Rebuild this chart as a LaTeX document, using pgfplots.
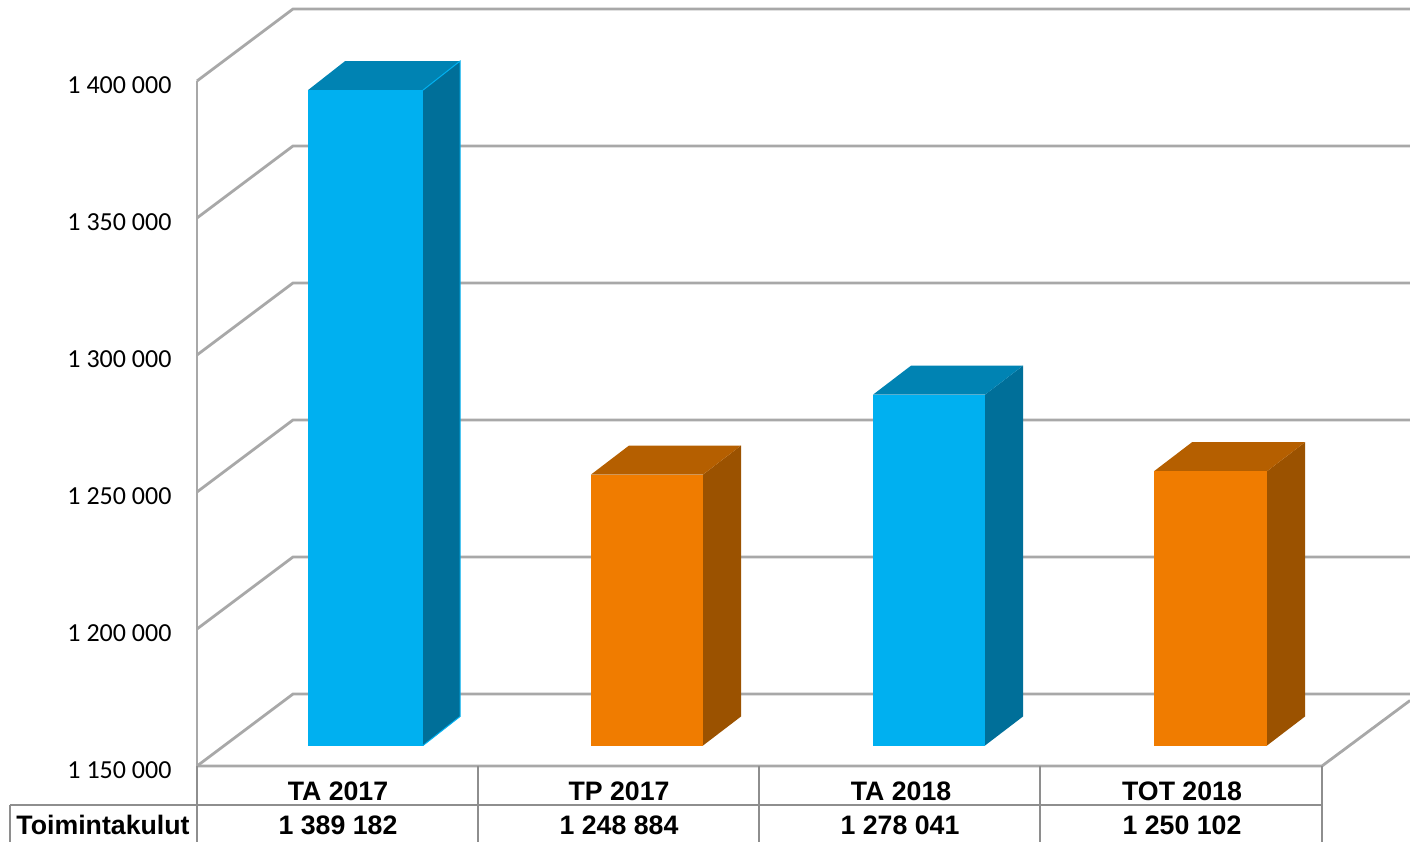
\documentclass[border=0pt]{standalone}
\usepackage{fontspec}
\setmainfont{Carlito}
\newfontfamily\arialb[BoldFont=Liberation Sans Bold]{Liberation Sans}
\usepackage{pgfplots}
\pgfplotsset{compat=1.18}
\definecolor{gridc}{HTML}{A8A8A8}
\definecolor{tablec}{HTML}{8E8E8E}
\definecolor{bfront}{HTML}{00B0F0}
\definecolor{bside}{HTML}{006F99}
\definecolor{btop}{HTML}{0083B3}
\definecolor{ofront}{HTML}{F07C00}
\definecolor{oside}{HTML}{9B5200}
\definecolor{otop}{HTML}{B55F00}
\pgfplotsset{
  base/.style={
    at={(150pt,0pt)}, anchor=south west,
    scale only axis, width=1260pt, height=842pt,
    xmin=150, xmax=1410,
  },
}
\tikzset{
  grid line/.style={draw=gridc, line width=2.8pt, line join=miter},
  table line/.style={draw=tablec, line width=2.3pt},
  face/.style={draw=none, fill=#1},
}
\begin{document}
\begin{tikzpicture}
\path[use as bounding box] (0pt,0pt) rectangle (1410pt,842pt);
% value axis: walls, floor, tick labels
\begin{axis}[base,
  ymin=1122264, ymax=1429562,
  axis line style={draw=none},
  xtick=\empty,
  ytick={1150000,1200000,1250000,1300000,1350000,1400000},
  major tick length=0pt,
  tick style={draw=none},
  scaled y ticks=false,
  yticklabel style={
    font=\fontsize{26}{30}\selectfont,
    /pgf/number format/assume math mode=true,
    /pgf/number format/fixed,
    /pgf/number format/1000 sep={\ },
    anchor=east, xshift=25pt, yshift=-4pt},
]
  \addplot[grid line] coordinates {(197,1400000)(197,1150000)};
  \addplot[grid line] coordinates {(197,1400000)(293,1426277)(1410,1426277)};
  \addplot[grid line] coordinates {(197,1350000)(293,1376277)(1410,1376277)};
  \addplot[grid line] coordinates {(197,1300000)(293,1326277)(1410,1326277)};
  \addplot[grid line] coordinates {(197,1250000)(293,1276277)(1410,1276277)};
  \addplot[grid line] coordinates {(197,1200000)(293,1226277)(1410,1226277)};
  \addplot[grid line] coordinates {(197,1150000)(293,1176277)(1410,1176277)};
  \addplot[grid line] coordinates {(197,1150000)(1322,1150000)(1410,1173900)};
\end{axis}
% bars: same scale, front plane stands 20 px in front of the wall plane
\begin{axis}[base,
  ymin=1114785, ymax=1422083,
  hide axis,
]
  % TA 2017
  \addplot[face=bside] coordinates {(423,1150000)(423,1389182)(460,1399766)(460,1160584)} -- cycle;
  \addplot[face=btop] coordinates {(308,1389182)(423,1389182)(460,1399766)(345,1399766)} -- cycle;
  \addplot[face=bfront] coordinates {(308,1150000)(308,1389182)(423,1389182)(423,1150000)} -- cycle;
  \addplot[draw=bfront, line width=1pt] coordinates {(423,1389182)(460,1399766)(460,1160584)(423,1150000)};
  % TP 2017
  \addplot[face=oside] coordinates {(703,1150000)(703,1248884)(741,1259468)(741,1160584)} -- cycle;
  \addplot[face=otop] coordinates {(591,1248884)(703,1248884)(741,1259468)(629,1259468)} -- cycle;
  \addplot[face=ofront] coordinates {(591,1150000)(591,1248884)(703,1248884)(703,1150000)} -- cycle;
  % TA 2018
  \addplot[face=bside] coordinates {(985,1150000)(985,1278041)(1023,1288625)(1023,1160584)} -- cycle;
  \addplot[face=btop] coordinates {(873,1278041)(985,1278041)(1023,1288625)(911,1288625)} -- cycle;
  \addplot[face=bfront] coordinates {(873,1150000)(873,1278041)(985,1278041)(985,1150000)} -- cycle;
  % TOT 2018
  \addplot[face=oside] coordinates {(1267,1150000)(1267,1250102)(1305,1260686)(1305,1160584)} -- cycle;
  \addplot[face=otop] coordinates {(1154,1250102)(1267,1250102)(1305,1260686)(1192,1260686)} -- cycle;
  \addplot[face=ofront] coordinates {(1154,1150000)(1154,1250102)(1267,1250102)(1267,1150000)} -- cycle;
\end{axis}
% data table under the plot
\draw[table line] (197pt,76pt) -- (197pt,0pt);
\draw[table line] (478pt,76pt) -- (478pt,0pt);
\draw[table line] (759pt,76pt) -- (759pt,0pt);
\draw[table line] (1040pt,76pt) -- (1040pt,0pt);
\draw[table line] (1322pt,76pt) -- (1322pt,0pt);
\draw[table line] (10pt,37pt) -- (1322pt,37pt);
\draw[table line] (10pt,37pt) -- (10pt,0pt);
\tikzset{cell/.style={font=\arialb\bfseries\fontsize{26.7}{30}\selectfont, text=black, inner sep=0pt, anchor=base}}
\node[cell] at (338pt,41pt) {TA 2017};
\node[cell] at (619pt,41pt) {TP 2017};
\node[cell] at (901pt,41pt) {TA 2018};
\node[cell] at (1182pt,41pt) {TOT 2018};
\node[cell] at (103pt,7pt) {Toimintakulut};
\node[cell] at (338pt,7pt) {1 389 182};
\node[cell] at (619pt,7pt) {1 248 884};
\node[cell] at (900pt,7pt) {1 278 041};
\node[cell] at (1182pt,7pt) {1 250 102};
\end{tikzpicture}
\end{document}
